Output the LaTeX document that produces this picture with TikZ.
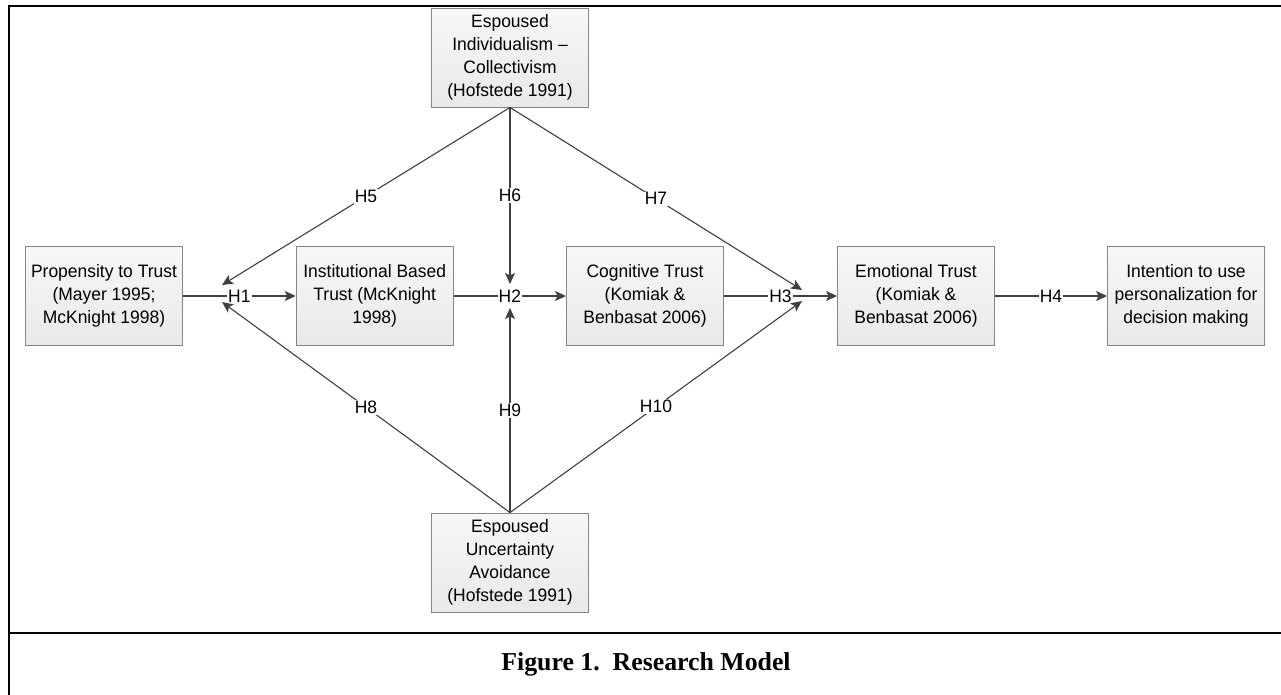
\documentclass[tikz,border=0pt]{standalone}
\usepackage{fontspec}
\setmainfont[FakeStretch=0.97]{Liberation Sans}
\newfontfamily\capfont{Liberation Serif}
\usetikzlibrary{arrows.meta,calc}
\definecolor{linegray}{HTML}{404040}
\definecolor{boxedge}{HTML}{858585}
\definecolor{boxtop}{HTML}{F7F7F7}
\definecolor{boxbot}{HTML}{E9E9E9}
\begin{document}
\begin{tikzpicture}[x=1pt,y=-1pt,
  box/.style={draw=boxedge, line width=0.9pt, top color=boxtop, bottom color=boxbot,
    minimum width=157pt, minimum height=99pt, inner sep=0pt, align=center,
    font=\fontsize{18}{23}\selectfont},
  conn/.style={draw=linegray, line width=1.1pt, -{Stealth[length=11pt,width=10pt,inset=2.5pt]}},
  lbl/.style={fill=white, inner sep=1pt, text=black, font=\fontsize{18}{20}\selectfont},
  frame/.style={line width=2.3pt, black}
]
\useasboundingbox (0,0) rectangle (1281,694);
% outer frame
\draw[frame] (9,700) -- (9,6) -- (1290,6);
\draw[frame] (9,633) -- (1290,633);

% boxes
\node[box] (top)  at (510,57.5)  {Espoused\\Individualism –\\Collectivism\\(Hofstede 1991)};
\node[box] (prop) at (104,296)   {Propensity to Trust\\(Mayer 1995;\\McKnight 1998)};
\node[box] (inst) at (374.7,296) {Institutional Based\\Trust (McKnight\\1998)};
\node[box] (cog)  at (645,296)   {Cognitive Trust\\(Komiak \&\\Benbasat 2006)};
\node[box] (emo)  at (916,296)   {Emotional Trust\\(Komiak \&\\Benbasat 2006)};
\node[box] (int)  at (1186,296)  {Intention to use\\personalization for\\decision making};
\node[box] (bot)  at (510,562.5) {Espoused\\Uncertainty\\Avoidance\\(Hofstede 1991)};

% arrow end points near the hypothesis labels
\coordinate (t5) at (222,285);
\coordinate (t8) at (222,302);
\coordinate (t6) at (510,284);
\coordinate (t9) at (510,308);
\coordinate (t7) at (802,290);
\coordinate (t10) at (802,301);

% main path
\draw[conn] (prop) -- node[lbl]{H1} (inst);
\draw[conn] (inst) -- node[lbl]{H2} (cog);
\draw[conn] (cog)  -- node[lbl]{H3} (emo);
\draw[conn] (emo)  -- node[lbl]{H4} (int);

% moderators from top
\draw[conn] (top.south) -- node[lbl]{H5} (t5);
\draw[conn] (top.south) -- node[lbl]{H6} (t6);
\draw[conn] (top.south) -- node[lbl]{H7} (t7);

% moderators from bottom
\draw[conn] (bot.north) -- node[lbl]{H8} (t8);
\draw[conn] (bot.north) -- node[lbl]{H9} (t9);
\draw[conn] (bot.north) -- node[lbl]{H10} (t10);

% caption
\node[font=\capfont\bfseries\fontsize{25.8}{30}\selectfont] (cap) at (646,664) {Figure 1.\ \ Research Model};
\end{tikzpicture}
\end{document}
